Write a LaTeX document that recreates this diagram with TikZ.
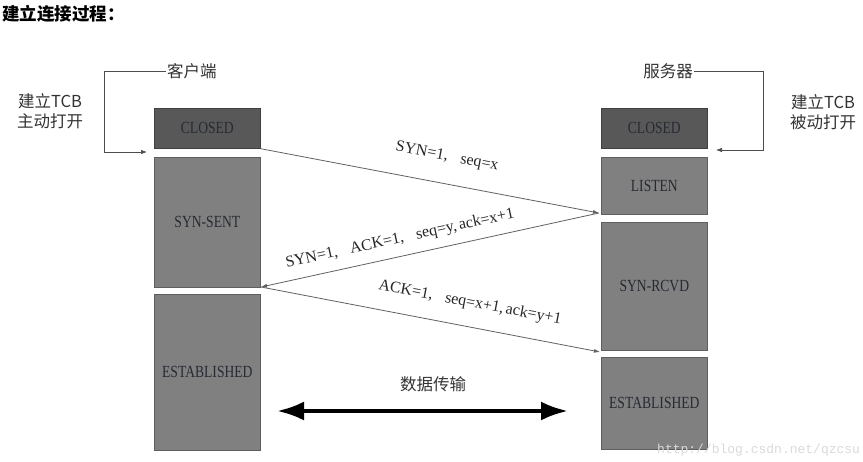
\documentclass[tikz,border=0pt]{standalone}
\usepackage{fontspec}
\setmainfont{Liberation Serif}
\newfontfamily\cjk{Noto Sans CJK SC}
\newfontfamily\boxfont{Liberation Serif}[FakeStretch=0.8]
\newfontfamily\wmfont{Liberation Mono}
\usetikzlibrary{arrows.meta}
\definecolor{darkst}{HTML}{585858}
\definecolor{midst}{HTML}{808080}
\definecolor{stedge}{HTML}{5E5E5E}
\definecolor{sttext}{HTML}{262A33}
\definecolor{wmark}{HTML}{DADADA}
\begin{document}
\begin{tikzpicture}[x=1pt,y=-1pt,
  st/.style={draw=stedge, line width=0.7pt, fill=midst, minimum width=106pt,
    anchor=north west, inner sep=0pt, text=sttext, font=\boxfont\fontsize{17}{19}\selectfont},
  closedst/.style={st, fill=darkst, draw=black!75},
  lbl/.style={font=\rmfamily\fontsize{16}{18}\selectfont, text=black!85, inner sep=0pt},
  cjkl/.style={font=\cjk\fontsize{16.5}{20}\selectfont, text=black!80, inner sep=1pt, align=center},
  msg/.style={draw=black!62, line width=0.8pt, -{Latex[length=6pt,width=4pt]}},
  brk/.style={draw=black!70, line width=0.7pt, -{Latex[length=6pt,width=4.5pt]}},
  data/.style={draw=black, line width=4pt, {Latex[length=27pt,width=19pt]}-{Latex[length=27pt,width=19pt]}}
]
\useasboundingbox (0,0) rectangle (863,461);
\fill[white] (0,0) rectangle (863,461);

% title
\node[font=\cjk\bfseries\fontsize{17.5}{19}\selectfont, anchor=west, inner sep=0pt] (title) at (2,14) {建立连接过程：};

% client states
\node[closedst, minimum height=40pt] (lc) at (154,108) {CLOSED};
\node[st, minimum height=130pt] (ls) at (154,157) {SYN-SENT};
\node[st, minimum height=156pt] (le) at (154,294) {ESTABLISHED};

% server states
\node[closedst, minimum height=40pt] (rc) at (601,108) {CLOSED};
\node[st, minimum height=57pt] (rl) at (601,157) {LISTEN};
\node[st, minimum height=128pt] (rs) at (601,222) {SYN-RCVD};
\node[st, minimum height=92pt] (re) at (601,357) {ESTABLISHED};

% side labels
\node[cjkl, anchor=west] (khd) at (166,71) {客户端};
\node[cjkl, anchor=east] (fwq) at (694,71) {服务器};
\node[cjkl] (lopen) at (50,111) {建立TCB\\主动打开};
\node[cjkl] (ropen) at (823,112) {建立TCB\\被动打开};

% brackets
\coordinate (lend) at (147,152);
\coordinate (rend) at (716,150);
\draw[brk] (khd.west) -- (104,71) -- (104,152) -- (lend);
\draw[brk] (fwq.east) -- (763,71) -- (763,150) -- (rend);

% handshake messages
\coordinate (p1) at (599,213);
\coordinate (p2) at (261,287);
\coordinate (p3) at (600,352);
\draw[msg] (lc.south east) -- (p1);
\draw[msg] (p1) -- (p2);
\draw[msg] (p2) -- (p3);

\node[lbl, rotate=-10.8] (m1) at (447,157) {SYN=1,\hspace{0.8em}seq=x};
\node[lbl, rotate=12.2] (m2) at (400,239) {SYN=1,\hspace{0.8em}ACK=1,\hspace{0.8em}seq=y,\hspace{0.15em}ack=x+1};
\node[lbl, rotate=-10.8] (m3) at (470,303) {ACK=1,\hspace{0.8em}seq=x+1,\hspace{0.15em}ack=y+1};

% data transfer
\node[cjkl] (sj) at (433,384) {数据传输};
\coordinate (dl) at (277,411);
\coordinate (dr) at (568,411);
\draw[data] (dl) -- (dr);

% watermark
\node[font=\wmfont\fontsize{13}{15}\selectfont, text=wmark, anchor=west, inner sep=0pt] (wm) at (657,450) {http://blog.csdn.net/qzcsu};
\end{tikzpicture}
\end{document}
